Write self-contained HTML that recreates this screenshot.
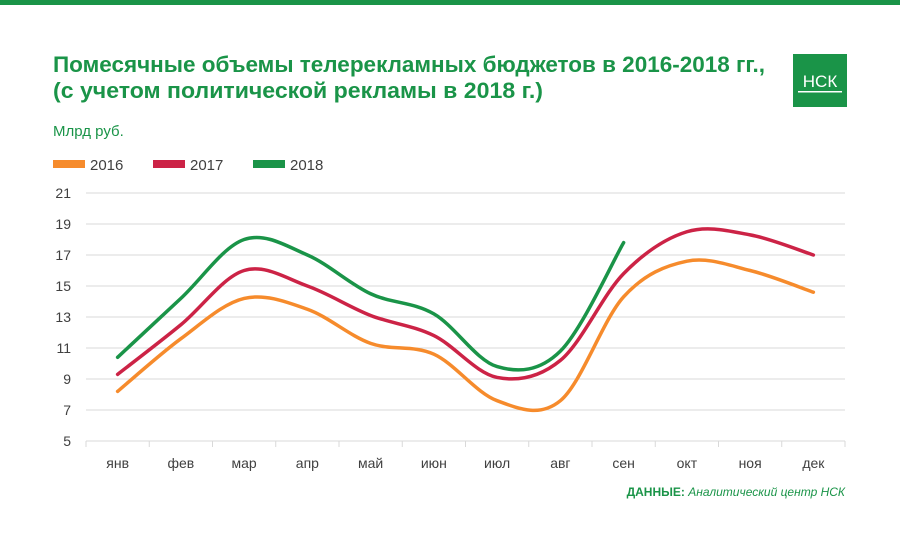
<!DOCTYPE html>
<html><head><meta charset="utf-8"><style>
body{margin:0;width:900px;height:529px;background:#fff;overflow:hidden;font-family:"Liberation Sans","Noto Sans CJK SC",sans-serif;}
</style></head><body>
<svg width="900" height="529" xmlns="http://www.w3.org/2000/svg" font-family="Liberation Sans, DejaVu Sans, sans-serif">
<rect x="0" y="0" width="900" height="5" fill="#1a9448"/>
<text x="53" y="72" font-size="22" font-weight="bold" fill="#1a9448" textLength="712" lengthAdjust="spacingAndGlyphs">Помесячные объемы телерекламных бюджетов в 2016-2018 гг.,</text>
<text x="53" y="98" font-size="22" font-weight="bold" fill="#1a9448" textLength="490" lengthAdjust="spacingAndGlyphs">(с учетом политической рекламы в 2018 г.)</text>
<g>
<rect x="793" y="54" width="54" height="53" fill="#1a9448"/>
<text x="820" y="87" font-size="17" fill="#fff" text-anchor="middle">НСК</text>
<rect x="798" y="91" width="44" height="1.5" fill="#fff"/>
</g>
<text x="53" y="136" font-size="15" fill="#1a9448">Млрд руб.</text>
<g id="legend"></g>
<g id="chart"></g>
<text x="845" y="496" font-size="12" text-anchor="end" fill="#1a9448"><tspan font-weight="bold">ДАННЫЕ:</tspan> <tspan font-style="italic">Аналитический центр НСК</tspan></text>
</svg>
<script>
const categories=["янв","фев","мар","апр","май","июн","июл","авг","сен","окт","ноя","дек"];
const series2016=[8.2,11.6,14.2,13.5,11.3,10.6,7.6,7.6,14.3,16.6,16.0,14.6];
const series2017=[9.3,12.5,16.0,15.0,13.1,11.8,9.1,10.2,15.8,18.5,18.3,17.0];
const series2018=[10.4,14.2,18.0,17.0,14.5,13.2,9.8,10.8,17.8];
const yTicks=[5,7,9,11,13,15,17,19,21];
const seriesNames=["2016","2017","2018"];
const colors=["#f68b2c","#cc2346","#1a9448"];
const NS="http://www.w3.org/2000/svg";
const x0=86,x1=845,yMin=5,yMax=21,py0=441,py1=193;
const step=(x1-x0)/categories.length;
const xs=i=>x0+step*(i+0.5);
const ys=v=>py0-(v-yMin)/(yMax-yMin)*(py0-py1);
const chart=document.getElementById('chart');
function mk(tag,attrs){const e=document.createElementNS(NS,tag);for(const k in attrs)e.setAttribute(k,attrs[k]);return e;}
yTicks.forEach(t=>{
 const l=mk('line',{x1:x0,x2:x1,y1:ys(t),y2:ys(t),stroke:'#d9d9d9','stroke-width':1});
 
 
 chart.appendChild(l);
 const tx=mk('text',{x:71,y:ys(t)+5,'font-size':14,'text-anchor':'end',fill:'#404040'});
 tx.textContent=t;
 
 
 chart.appendChild(tx);
});
categories.forEach((c,i)=>{
 const tk=mk('line',{x1:x0+step*i,x2:x0+step*i,y1:py0,y2:py0+6,stroke:'#d9d9d9'});
 
 
 chart.appendChild(tk);
 const tx=mk('text',{x:xs(i),y:468,'font-size':14,'text-anchor':'middle',fill:'#404040'});
 tx.textContent=c;
 
 
 chart.appendChild(tx);
});
const tkEnd=mk('line',{x1:x1,x2:x1,y1:py0,y2:py0+6,stroke:'#d9d9d9'});


chart.appendChild(tkEnd);
function path(vals){
 const p=vals.map((v,i)=>[xs(i),ys(v)]);
 let d='M'+p[0][0]+','+p[0][1];
 for(let i=0;i<p.length-1;i++){
  const a=p[i-1]||p[i],b=p[i],c=p[i+1],e=p[i+2]||c;
  d+=' C'+(b[0]+(c[0]-a[0])/6)+','+(b[1]+(c[1]-a[1])/6)+' '+(c[0]-(e[0]-b[0])/6)+','+(c[1]-(e[1]-b[1])/6)+' '+c[0]+','+c[1];
 }
 return d;
}
[series2016,series2017,series2018].forEach((s,k)=>{
 const pth=mk('path',{d:path(s),fill:'none',stroke:colors[k],'stroke-width':3.5,'stroke-linecap':'round'});
 
 
 chart.appendChild(pth);
});
const lg=document.getElementById('legend');
const lx=[53,153,253];
seriesNames.forEach((n,k)=>{
 const g=mk('g',{});
 
 
 g.appendChild(mk('rect',{x:lx[k],y:160,width:32,height:8,fill:colors[k]}));
 const t=mk('text',{x:lx[k]+37,y:170,'font-size':15,fill:'#404040'});
 t.textContent=n;
 g.appendChild(t);
 lg.appendChild(g);
});
</script>
</body></html>
